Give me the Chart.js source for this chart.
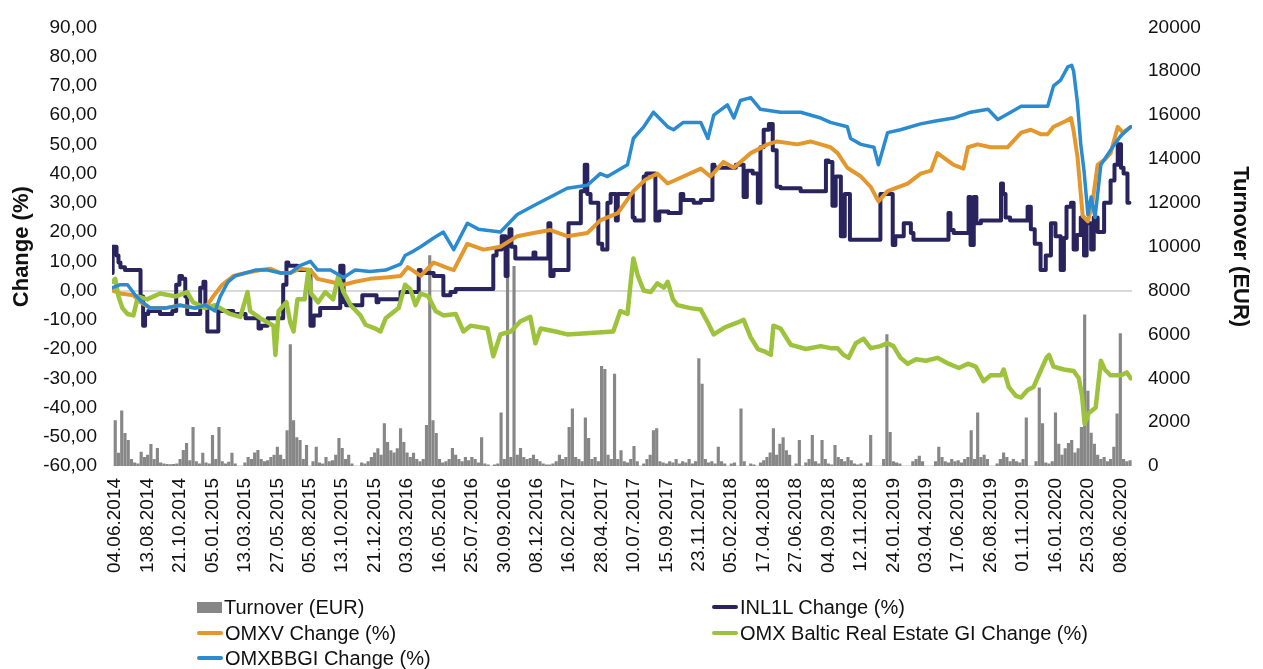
<!DOCTYPE html>
<html>
<head>
<meta charset="utf-8">
<script src="https://cdn.jsdelivr.net/npm/chart.js@4.4.0/dist/chart.umd.min.js"></script>
<style>
  html, body { margin: 0; padding: 0; background: #fff; }
  #wrap { position: relative; width: 1263px; height: 669px; }
  #legend { position: absolute; left: 0; top: 0; width: 1263px; height: 669px; pointer-events: none;
    font-family: "Liberation Sans", Arial, sans-serif; font-size: 20px; color: #111; }
  .item { position: absolute; height: 26px; display: flex; align-items: center; white-space: nowrap; }
  .mark { margin-right: 2px; }
</style>
</head>
<body>
<div id="wrap">
  <canvas id="chart" width="1263" height="669"></canvas>
  <div id="legend"></div>
</div>
<script>
// x axis: trading days since 04.06.2014, one label every 50 trading days
const dateLabels = ['04.06.2014', '13.08.2014', '21.10.2014', '05.01.2015', '13.03.2015', '27.05.2015',
  '05.08.2015', '13.10.2015', '21.12.2015', '03.03.2016', '16.05.2016', '25.07.2016', '30.09.2016',
  '08.12.2016', '16.02.2017', '28.04.2017', '10.07.2017', '15.09.2017', '23.11.2017', '05.02.2018',
  '17.04.2018', '27.06.2018', '04.09.2018', '12.11.2018', '24.01.2019', '03.04.2019', '17.06.2019',
  '26.08.2019', '01.11.2019', '16.01.2020', '25.03.2020', '08.06.2020'];

// turnover (EUR), one value per 5 trading days
const turnover = [
  2070, 585, 2520, 1490, 1170, 300, 150, 100, 630, 400,
  500, 990, 300, 810, 150, 100, 80, 60, 80, 100,
  300, 720, 1030, 250, 1760, 200, 100, 585, 150, 100,
  1400, 300, 1760, 200, 100, 180, 585, 100, 0, 0,
  150, 400, 300, 600, 720, 300, 200, 250, 400, 500,
  860, 500, 300, 1620, 5540, 2070, 1300, 1170, 300, 945,
  0, 200, 860, 150, 100, 400, 200, 250, 500, 1260,
  810, 300, 500, 100, 0, 0, 150, 100, 200, 400,
  600, 800, 500, 1930, 1080, 700, 600, 800, 1710, 1080,
  600, 400, 585, 300, 200, 300, 1850, 9600, 2070, 1490,
  300, 150, 200, 300, 810, 500, 300, 200, 400, 250,
  400, 300, 150, 1300, 100, 50, 0, 50, 100, 2430,
  300, 9200, 400, 9100, 500, 810, 400, 300, 350, 500,
  300, 200, 100, 50, 50, 100, 200, 500, 300, 400,
  1760, 2610, 400, 300, 200, 2200, 1260, 300, 400, 200,
  4550, 4410, 500, 300, 4190, 300, 700, 200, 150, 300,
  900, 200, 0, 100, 300, 500, 1620, 1710, 200, 150,
  100, 200, 150, 300, 100, 200, 150, 300, 100, 200,
  4900, 3740, 300, 150, 200, 100, 860, 200, 100, 0,
  100, 150, 0, 2610, 200, 0, 100, 50, 0, 150,
  250, 400, 600, 1710, 500, 1000, 1300, 700, 500, 0,
  100, 1170, 0, 150, 300, 1400, 200, 100, 1170, 300,
  100, 50, 945, 400, 300, 200, 400, 250, 100, 50,
  100, 0, 150, 1400, 0, 0, 0, 300, 5990, 1530,
  200, 150, 100, 0, 0, 0, 200, 300, 450, 200,
  0, 0, 0, 200, 860, 400, 200, 150, 300, 200,
  250, 150, 300, 400, 1620, 300, 2430, 400, 500, 300,
  0, 0, 100, 300, 600, 400, 200, 300, 200, 150,
  300, 2200, 0, 0, 200, 3560, 1930, 150, 100, 200,
  2430, 1000, 500, 800, 1030, 1170, 600, 800, 1760, 6890,
  3420, 1500, 1000, 500, 300, 400, 200, 300, 860, 2380,
  6040, 300, 200, 250
];

// INL1L change (%)
const inlDay = [-4, 2, 5, 8, 15, 28, 39, 43, 46, 51, 69, 88, 94, 99, 103, 108, 111, 116, 131, 136,
  139, 142, 147, 159, 164, 182, 201, 221, 225, 235, 259, 264, 267, 281, 290, 301, 306, 316, 347, 352,
  356, 381, 387, 403, 406, 440, 455, 468, 471, 491, 506, 517, 525, 583, 588, 596, 602, 605, 608, 611,
  617, 622, 645, 648, 668, 671, 676, 699, 704, 718, 724, 728, 733, 745, 751, 759, 764, 772, 775, 782,
  798, 801, 815, 819, 833, 839, 853, 872, 876, 892, 903, 921, 924, 957, 969, 974, 983, 991, 995, 1000,
  1008, 1014, 1020, 1026, 1057, 1096, 1100, 1106, 1111, 1119, 1125, 1133, 1137, 1180, 1185, 1199, 1203, 1216, 1227, 1231,
  1258, 1285, 1288, 1293, 1316, 1319, 1324, 1328, 1335, 1366, 1369, 1373, 1380, 1407, 1412, 1418, 1427, 1435, 1443, 1450,
  1458, 1463, 1467, 1474, 1478, 1483, 1489, 1494, 1498, 1505, 1509, 1515, 1525, 1531, 1535, 1541, 1546, 1551, 1555, 1561,
  1564];
const inlVal = [6, 15, 12, 9.6, 8, 7, 7, -2, -12, -8, -7, -8, -7, 2, 5, 4, -2, -8, -8, 1,
  3, -5, -14, -14, -7, -7, -8, -9.5, -13, -12, -9.5, 2, 9.6, 8.5, 7, 7, -12, -8.5, -6, 8.5,
  -4, -5, -1.6, -1.6, -4, -3, -0.5, -0.5, 7, 6, 5, -1.6, -0.5, 0.5, 12, 14, 18.6, 5, 18, 21,
  15, 11, 11, 13, 11, 23, 5, 7, 23, 23, 34, 43, 33, 30, 16, 14, 30, 33, 24, 33,
  33, 25, 24, 39, 40, 24, 27, 26.5, 33, 31, 30, 31, 43, 42, 43, 32, 41, 40, 30, 49,
  55, 57, 48, 35.5, 35, 34, 44.5, 44, 29, 39, 18.6, 33, 17.4, 17.4, 33, 33, 15.6, 18.6, 23, 19.7,
  17.4, 17.4, 26.5, 20.7, 19.7, 32, 15.6, 32, 23, 24, 36.6, 33, 25, 24, 28.7, 21, 16, 7, 12, 23,
  18.6, 7, 18, 28.7, 30, 14, 19, 25, 12, 23, 14, 25, 20, 30, 30, 37.6, 43, 50, 42, 40,
  30];

// OMXV change (%)
const omxvDay = [-4, 8, 28, 39, 54, 77, 100, 123, 142, 151, 165, 182, 201, 224, 239, 255, 270, 285, 301, 312,
  332, 352, 370, 393, 417, 440, 451, 458, 471, 491, 509, 522, 543, 568, 594, 620, 645, 671, 697, 728,
  748, 775, 799, 818, 836, 852, 876, 903, 918, 938, 954, 980, 1006, 1021, 1052, 1072, 1088, 1103, 1114, 1129,
  1150, 1165, 1177, 1191, 1222, 1242, 1258, 1268, 1293, 1308, 1315, 1330, 1350, 1376, 1397, 1412, 1427, 1438, 1447, 1466,
  1474, 1478, 1484, 1489, 1492, 1500, 1507, 1515, 1527, 1535, 1546, 1554, 1566];
const omxvVal = [0, -1, -1.6, -4, -6, -6, -5, -6, -5, -2, 2, 5, 6, 7, 7.5, 6, 6, 7.5, 7, 4,
  3, 2, 3, 4, 4.5, 5, 8, 7, 5, 9.6, 8, 7, 16, 14, 15, 18.6, 19.7, 20.7, 18.6, 19.7,
  24, 26.5, 34, 38, 40, 36.6, 39, 41.7, 39, 44, 42, 47, 50, 51, 50, 51, 50, 49, 47, 42,
  39, 35.5, 30.5, 34, 36.6, 40, 41, 47, 43, 41.7, 49, 50, 49, 49, 54, 55, 53.5, 53.5, 56, 58,
  59, 54.5, 45.6, 33, 25.5, 23.7, 30, 43, 45, 47, 56, 54, 56];

// OMX Baltic Real Estate GI change (%)
const baltDay = [-4, 0, 5, 11, 19, 28, 35, 49, 69, 93, 111, 120, 139, 154, 177, 193, 204, 208, 224, 236,
  244, 247, 252, 264, 270, 275, 281, 292, 298, 302, 313, 324, 336, 344, 352, 363, 378, 386, 401, 409,
  417, 437, 447, 455, 463, 471, 483, 494, 506, 525, 537, 548, 574, 583, 594, 610, 625, 640, 648, 656,
  679, 697, 733, 768, 779, 790, 795, 799, 806, 815, 826, 836, 846, 852, 860, 867, 887, 903, 914, 923,
  941, 959, 969, 980, 991, 1003, 1011, 1015, 1026, 1042, 1065, 1088, 1103, 1114, 1123, 1131, 1142, 1154, 1165, 1180,
  1191, 1200, 1211, 1222, 1235, 1250, 1268, 1285, 1301, 1315, 1327, 1339, 1350, 1366, 1370, 1378, 1389, 1397, 1407, 1416,
  1427, 1436, 1440, 1447, 1463, 1478, 1486, 1491, 1495, 1501, 1512, 1520, 1526, 1535, 1551, 1560, 1566];
const baltVal = [3, 4, -2, -6, -8, -8.5, -2, -3, -1, -2, -0.5, -4, -6, -5, -8, -9, -0.5, -7, -9.5, -11,
  -12, -22, -7, -4, -11, -14, -3, -3, 7, -1, -4, -0.5, -3, 5, -0.5, -5, -8.5, -11.7, -13, -14,
  -9.5, -6, 2, 0.5, -5, -1, -2, -7, -8.5, -8, -14, -12, -13, -22.5, -15, -14, -10.5, -9, -18, -13,
  -14, -15, -14.5, -14, -7, -8, 3, 11, 5, 0, -0.5, 2.5, 1, 3, -3, -5, -6, -6.5, -11, -15,
  -12.5, -11, -10, -16, -20, -21, -22, -12, -13, -18.6, -20, -19, -19.7, -19.7, -22, -23, -18, -16.5, -19.7, -19,
  -18, -19, -23, -25, -23.5, -24, -23, -25, -26.5, -25, -26, -31, -29, -29, -27, -33, -36, -36.6, -34, -33,
  -27.5, -23, -22, -26, -27, -27.5, -30, -36, -45.6, -42, -40, -24, -27, -29, -29, -28, -30];

// OMXBBGI change (%)
const bbDay = [-4, 8, 19, 31, 42, 54, 77, 100, 123, 139, 154, 162, 174, 185, 216, 235, 255, 270, 285, 301,
  312, 332, 352, 370, 393, 417, 440, 447, 460, 471, 491, 506, 522, 543, 560, 594, 620, 645, 671, 697,
  728, 748, 759, 790, 799, 815, 830, 852, 861, 876, 903, 914, 923, 944, 954, 964, 980, 995, 1026, 1057,
  1088, 1103, 1129, 1134, 1150, 1170, 1177, 1191, 1211, 1242, 1265, 1293, 1319, 1346, 1361, 1381, 1397, 1438, 1447, 1458,
  1469, 1475, 1478, 1484, 1489, 1494, 1500, 1505, 1511, 1520, 1541, 1551, 1566];
const bbVal = [1, 2, 2, -1.6, -4, -6, -6, -5, -6, -5, -7, -2, 3, 5, 7, 7, 6, 6, 8.5, 10,
  7, 7, 4.5, 7, 6.5, 7, 9, 12, 13.5, 15, 18, 20, 14, 23, 21, 20, 26, 29, 32, 35,
  36, 40, 39, 43, 52, 56, 61, 56, 55, 57.5, 57.5, 52, 60, 63.5, 59, 65, 66, 62, 61, 61,
  59, 57.5, 56, 52, 50, 49, 43, 54, 55, 57, 58, 59, 61, 62, 58.5, 61, 63, 63, 70, 72,
  76.5, 77, 75, 64, 50, 41, 26, 32, 25, 43, 50, 53, 56];

const pts = (days, vals) => days.map((d, i) => ({ x: d, y: vals[i] }));
const FONT = '"Liberation Sans", Arial, sans-serif';
Chart.defaults.font.family = FONT;
Chart.defaults.color = '#111';

const lineStyle = { type: 'line', yAxisID: 'y', pointRadius: 0, tension: 0, borderJoinStyle: 'round', borderCapStyle: 'round' };

const chart = new Chart(document.getElementById('chart').getContext('2d'), {
  type: 'bar',
  data: {
    datasets: [
      { type: 'bar', label: 'Turnover (EUR)', yAxisID: 'y2', data: turnover.map((v, k) => ({ x: k * 5, y: v })),
        backgroundColor: '#878787', barThickness: 2.5, order: 5 },
      { ...lineStyle, label: 'INL1L Change (%)', data: pts(inlDay, inlVal), borderColor: '#29245e', borderWidth: 4, stepped: 'after', order: 4 },
      { ...lineStyle, label: 'OMXV Change (%)', data: pts(omxvDay, omxvVal), borderColor: '#e3972c', borderWidth: 4, order: 3 },
      { ...lineStyle, label: 'OMX Baltic Real Estate GI Change (%)', data: pts(baltDay, baltVal), borderColor: '#9dc23c', borderWidth: 4.5, order: 2 },
      { ...lineStyle, label: 'OMXBBGI Change (%)', data: pts(bbDay, bbVal), borderColor: '#2a8bd0', borderWidth: 3.5, order: 1 }
    ]
  },
  options: {
    responsive: false,
    animation: false,
    layout: { padding: { top: 22, left: 0, right: 0, bottom: 0 } },
    plugins: { legend: { display: false }, tooltip: { enabled: false } },
    scales: {
      x: {
        type: 'linear', min: -5, max: 1568, offset: false,
        afterBuildTicks: ax => { ax.ticks = dateLabels.map((d, i) => ({ value: i * 50 })); },
        ticks: { callback: v => dateLabels[Math.round(v / 50)], autoSkip: false, minRotation: 90, maxRotation: 90,
          padding: 12, font: { size: 19 } },
        grid: { display: false, drawTicks: false, offset: false },
        border: { display: false },
        afterFit: s => { s.height = 203; }
      },
      y: {
        position: 'left', min: -60, max: 90,
        ticks: { stepSize: 10, padding: 15, font: { size: 19 }, callback: v => v.toFixed(2).replace('.', ',') },
        grid: { drawTicks: false, lineWidth: 2, color: c => (c.tick && c.tick.value === 0 ? '#d9d9d9' : 'rgba(0,0,0,0)') },
        border: { display: false },
        title: { display: true, text: 'Change (%)', font: { size: 22, weight: 'bold' }, padding: { top: 9, bottom: 0 } },
        afterFit: s => { s.width = 112; }
      },
      y2: {
        position: 'right', min: 0, max: 20000,
        ticks: { stepSize: 2000, padding: 16, font: { size: 19 }, callback: v => String(v) },
        grid: { display: false, drawTicks: false },
        border: { display: false },
        title: { display: true, text: 'Turnover (EUR)', font: { size: 22, weight: 'bold' }, padding: { top: 10, bottom: 0 } },
        afterFit: s => { s.width = 131; }
      }
    }
  }
});

// legend in two columns below the axis labels
const legendSpots = [[197, 607], [712, 607], [197, 633], [712, 633], [197, 658]];
const legend = document.getElementById('legend');
chart.data.datasets.forEach((ds, i) => {
  const [lx, ly] = legendSpots[i];
  const item = document.createElement('div');
  item.className = 'item';
  item.style.left = lx + 'px';
  item.style.top = (ly - 13) + 'px';
  const mark = document.createElement('span');
  mark.className = 'mark';
  if (ds.type === 'bar') {
    mark.style.cssText = 'display:inline-block;width:25px;height:11px;background:' + ds.backgroundColor;
  } else {
    mark.style.cssText = 'display:inline-block;width:26px;height:4px;border-radius:2px;background:' + ds.borderColor;
  }
  item.appendChild(mark);
  item.appendChild(document.createTextNode(ds.label));
  legend.appendChild(item);
});
</script>
</body>
</html>
